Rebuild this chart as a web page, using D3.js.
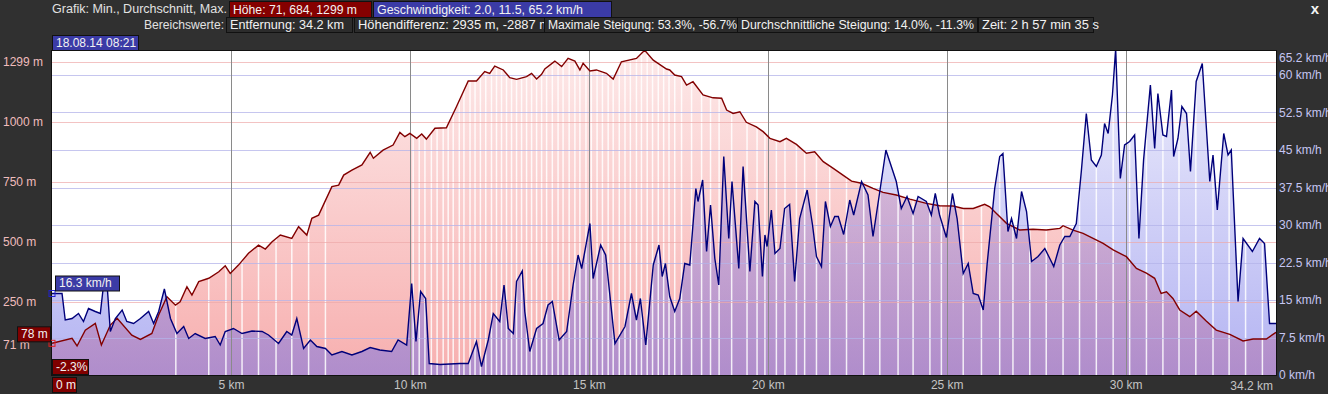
<!DOCTYPE html>
<html>
<head>
<meta charset="utf-8">
<script src="https://cdn.jsdelivr.net/npm/d3@7"></script>
<style>
    body { margin: 0; background: #303030; overflow: hidden; }
    svg { display: block; font-family: "Liberation Sans", Arial, sans-serif; }
</style>
</head>
<body>
<div class="chart"></div>
<script>
var svgWidth = 1328;
var svgHeight = 394;

var margin = {
    top: 51,
    right: 52,
    bottom: 19,
    left: 52
};

var width = svgWidth - margin.left - margin.right;
var height = svgHeight - margin.top - margin.bottom;

// elevation profile (km, m)
var elevKm = [0, 0.56, 0.70, 0.93, 1.21, 1.38, 1.63, 1.82, 2.23, 2.47, 2.79, 2.98, 3.21, 3.45, 3.58, 3.77, 3.91, 4.10, 4.38, 4.66,
    4.84, 4.98, 5.21, 5.49, 5.77, 5.96, 6.15, 6.38, 6.70, 6.89, 7.12, 7.26, 7.45, 7.82, 8.01, 8.15, 8.38, 8.66, 8.89, 8.98,
    9.25, 9.53, 9.72, 9.86, 10.0, 10.19, 10.33, 10.46, 10.70, 11.02, 11.30, 11.63, 11.86, 12.09, 12.23, 12.37, 12.61, 12.79, 12.98, 13.26,
    13.40, 13.54, 13.68, 13.77, 14.05, 14.24, 14.42, 14.61, 14.75, 14.84, 15.03, 15.21, 15.49, 15.68, 15.91, 16.33, 16.56, 16.80, 17.17, 17.26,
    17.40, 17.59, 17.73, 17.91, 18.19, 18.47, 18.71, 18.85, 19.03, 19.22, 19.40, 19.68, 19.87, 20.06, 20.34, 20.52, 20.80, 21.08, 21.31, 21.55,
    21.83, 22.10, 22.34, 22.62, 22.94, 23.22, 23.59, 23.97, 24.43, 24.80, 25.18, 25.46, 25.74, 26.06, 26.20, 26.39, 26.67, 27.04, 27.41, 27.78,
    28.16, 28.25, 28.53, 28.81, 29.09, 29.37, 29.65, 30.02, 30.30, 30.58, 30.81, 30.99, 31.14, 31.32, 31.51, 31.79, 31.97, 32.25, 32.53, 32.91,
    33.28, 33.56, 33.93, 34.2];
var elevM = [78, 99, 67, 133, 161, 71, 154, 182, 112, 94, 119, 196, 272, 237, 251, 314, 279, 335, 349, 376,
    401, 369, 404, 453, 487, 471, 501, 529, 515, 564, 529, 599, 612, 731, 737, 779, 800, 821, 874, 849,
    883, 904, 957, 939, 953, 932, 950, 929, 974, 976, 1064, 1171, 1171, 1210, 1203, 1233, 1217, 1185, 1178, 1189,
    1203, 1179, 1199, 1221, 1254, 1231, 1265, 1254, 1217, 1245, 1213, 1217, 1203, 1179, 1251, 1265, 1299, 1258, 1221, 1217,
    1196, 1189, 1154, 1168, 1113, 1101, 1099, 1050, 1036, 1043, 999, 980, 960, 932, 918, 932, 907, 870, 876, 835,
    807, 779, 754, 745, 724, 707, 696, 679, 661, 651, 650, 640, 640, 657, 647, 619, 578, 550, 553, 550,
    557, 568, 550, 536, 515, 494, 467, 439, 390, 370, 349, 286, 293, 265, 217, 189, 212, 171, 133, 115,
    88, 96, 96, 124];

// speed profile (km, km/h)
var speedKm = [0, 0.28, 0.37, 0.56, 0.74, 0.88, 1.02, 1.21, 1.35, 1.44, 1.54, 1.63, 1.77, 1.96, 2.09, 2.28, 2.47, 2.70, 2.84, 2.98,
    3.14, 3.31, 3.49, 3.68, 3.82, 4.00, 4.28, 4.56, 4.70, 4.84, 5.07, 5.31, 5.59, 5.87, 6.05, 6.33, 6.56, 6.70, 6.84, 7.03,
    7.22, 7.40, 7.64, 7.82, 8.10, 8.38, 8.66, 8.89, 9.16, 9.49, 9.67, 9.91, 10.05, 10.17, 10.30, 10.44, 10.54, 10.84, 11.40, 11.63,
    11.86, 12.00, 12.19, 12.33, 12.51, 12.63, 12.75, 12.89, 12.98, 13.14, 13.21, 13.35, 13.54, 13.72, 13.86, 13.98, 14.17, 14.38, 14.56, 14.70,
    14.80, 15.03, 15.12, 15.33, 15.47, 15.73, 16.01, 16.19, 16.33, 16.44, 16.59, 16.80, 16.96, 17.05, 17.14, 17.26, 17.40, 17.54, 17.68, 17.82,
    17.99, 18.05, 18.18, 18.29, 18.40, 18.52, 18.63, 18.77, 18.91, 19.00, 19.19, 19.31, 19.50, 19.64, 19.73, 19.85, 19.92, 19.98, 20.10, 20.20,
    20.34, 20.47, 20.61, 20.75, 20.89, 21.10, 21.25, 21.36, 21.50, 21.61, 21.75, 21.87, 21.97, 22.12, 22.29, 22.40, 22.62, 22.80, 22.94, 23.13,
    23.30, 23.59, 23.73, 23.89, 24.06, 24.20, 24.43, 24.57, 24.68, 24.80, 24.99, 25.16, 25.29, 25.46, 25.60, 25.74, 25.88, 26.02, 26.13, 26.34,
    26.48, 26.57, 26.71, 26.81, 26.95, 27.09, 27.23, 27.37, 27.55, 27.74, 27.88, 27.99, 28.16, 28.30, 28.44, 28.62, 28.76, 28.90, 29.04, 29.18,
    29.32, 29.41, 29.51, 29.63, 29.72, 29.85, 29.97, 30.11, 30.25, 30.37, 30.50, 30.69, 30.81, 30.90, 31.04, 31.14, 31.28, 31.34, 31.46, 31.57,
    31.70, 31.81, 31.97, 32.14, 32.35, 32.44, 32.56, 32.74, 32.86, 32.95, 33.14, 33.28, 33.54, 33.74, 33.88, 34.02, 34.2];
var speedKmh = [16.3, 16.3, 11.0, 11.3, 12.3, 10.7, 13.3, 12.7, 12.3, 18, 18, 8.7, 11.3, 13, 10.7, 10.3, 11.3, 12.7, 10.3, 12.7,
    17.2, 11.3, 8.3, 9.7, 7.3, 8.3, 7.3, 7.7, 6, 8.7, 9.3, 8.3, 8.8, 8.7, 8, 6.3, 8.7, 8, 11.3, 5.3,
    7, 5.7, 5.3, 4, 4.7, 4, 4.7, 5.5, 5, 4.7, 7, 6, 18.3, 6.7, 16.7, 15.3, 2.3, 2.1, 2.3, 2.3,
    6.7, 1.7, 7, 12.3, 10.7, 18, 9.3, 8.3, 18.7, 20.8, 12.7, 4.7, 9.3, 10.3, 14, 14.7, 7, 8.7, 18, 24,
    21.3, 30.3, 19.3, 26, 24, 6.3, 9.7, 16.3, 11, 15.3, 6, 22, 26, 19.7, 22.3, 15.7, 12.7, 15.3, 22.3, 22,
    37.3, 34.7, 39, 24.7, 34, 23.3, 18, 43.7, 27.3, 38.7, 21.3, 41.7, 20.7, 34.7, 34, 19.7, 28, 25.7, 33, 24.3,
    25.3, 33.3, 34.1, 18.7, 31.3, 37, 30, 23.7, 21.7, 34.7, 29.7, 31.7, 31.7, 28.1, 35, 32, 38.7, 36, 27.7, 36.7,
    45, 38.7, 33.3, 35.7, 32.3, 35.7, 34.7, 32, 36.3, 32, 27.5, 36.3, 31.3, 20.3, 22.3, 16.3, 16, 13, 22.3, 37.3,
    43.7, 44.3, 28.7, 31.3, 27.3, 36.7, 32.7, 22.7, 23.7, 25.3, 23.3, 21.7, 26, 27.7, 27.7, 30.3, 40.7, 52.3, 43, 41.7,
    44, 50.3, 48.3, 56, 65.2, 39.3, 46, 46.7, 48, 27.3, 43, 58, 45.3, 56.3, 48, 47.7, 57, 43.7, 47.3, 53.7,
    52.3, 40.7, 58.7, 62.3, 38.7, 44, 33, 48.3, 44, 45, 14.7, 27.3, 24.7, 27.3, 26.3, 10.3, 10.3];

// track segment boundaries (white stripes in the fill)
var segmentKm = [3.46, 4.38, 4.86, 5.31, 5.77, 6.26, 6.70, 7.17, 7.64, 10.09, 10.26, 10.42, 10.60, 10.76, 10.93, 11.07, 11.21, 11.38, 11.51, 11.68,
    11.82, 11.97, 12.12, 12.28, 12.42, 12.56, 12.70, 12.84, 12.98, 13.12, 13.26, 13.40, 13.54, 13.68, 13.82, 13.98, 14.14, 14.28, 14.45, 14.61,
    14.75, 14.92, 15.07, 15.23, 15.38, 15.54, 15.68, 15.85, 16.01, 16.16, 16.33, 16.47, 16.63, 16.78, 16.94, 17.09, 17.24, 17.40, 17.59, 17.87,
    18.15, 18.40, 18.64, 18.99, 19.42, 19.70, 19.92, 20.24, 20.48, 20.80, 21.03, 21.36, 21.73, 22.20, 22.68, 23.13, 23.64, 24.06, 24.53, 24.85,
    25.46, 25.97, 26.48, 26.85, 27.32, 27.78, 28.25, 28.71, 29.18, 29.65, 30.11, 30.58, 31.04, 31.49, 31.96, 32.44, 32.89, 33.35, 33.82];

var distTicks = [5, 10, 15, 20, 25, 30];
var distLabels = ["5 km", "10 km", "15 km", "20 km", "25 km", "30 km"];
var elevTicks = [71, 250, 500, 750, 1000, 1250];
var elevLabels = ["71 m", "250 m", "500 m", "750 m", "1000 m", "1299 m"];
var speedTicks = [0, 7.5, 15, 22.5, 30, 37.5, 45, 52.5, 60, 63.4];
var speedLabels = ["0 km/h", "7.5 km/h", "15 km/h", "22.5 km/h", "30 km/h", "37.5 km/h", "45 km/h", "52.5 km/h", "60 km/h", "65.2 km/h"];

var elevData = elevKm.map((k, i) => ({ km: k, v: elevM[i] }));
var speedData = speedKm.map((k, i) => ({ km: k, v: speedKmh[i] }));

var svg = d3
    .select(".chart")
    .append("svg")
    .attr("width", svgWidth)
    .attr("height", svgHeight);

svg.append("rect")
    .attr("width", svgWidth)
    .attr("height", svgHeight)
    .attr("fill", "#303030");

// text helper, squeezes the string into w pixels if given
function addText(g, x, y, txt, opts) {
    opts = opts || {};
    var t = g.append("text")
        .attr("x", x)
        .attr("y", y)
        .attr("fill", opts.color || "#e2e2e2")
        .attr("font-size", opts.size || 12)
        .attr("text-anchor", opts.anchor || "start")
        .text(txt);
    if (opts.w) {
        t.attr("textLength", opts.w).attr("lengthAdjust", "spacingAndGlyphs");
    }
    return t;
}

function addBox(g, x, y, w, h, fill, txt, tw) {
    g.append("rect")
        .attr("x", x + 0.5)
        .attr("y", y + 0.5)
        .attr("width", w)
        .attr("height", h)
        .attr("fill", fill)
        .attr("stroke", "#111");
    addText(g, x + 4, y + h - 3.5, txt, { w: tw, color: "#f2f2f2" });
}

// header
var header = svg.append("g");
addText(header, 227, 13, "Grafik: Min., Durchschnitt, Max.", { anchor: "end", w: 175 });
addBox(header, 229, 1, 142, 16, "#850000", "Höhe: 71, 684, 1299 m", 124);
addBox(header, 373, 1, 238, 16, "#3b3ba6", "Geschwindigkeit: 2.0, 11.5, 65.2 km/h", 206);

addText(header, 224, 29, "Bereichswerte:", { anchor: "end", w: 80 });
addBox(header, 226, 17, 126, 15, "#2c2c2c", "Entfernung: 34.2 km", 114);
addBox(header, 354, 17, 192, 15, "#2c2c2c", "Höhendifferenz: 2935 m, -2887 m", 192);
addBox(header, 544, 17, 194, 15, "#2c2c2c", "Maximale Steigung: 53.3%, -56.7%", 189);
addBox(header, 737, 17, 240, 15, "#2c2c2c", "Durchschnittliche Steigung: 14.0%, -11.3%", 233);
addBox(header, 978, 17, 115, 15, "#2c2c2c", "Zeit: 2 h 57 min 35 s", 117);

header.append("text")
    .attr("x", 1315)
    .attr("y", 14)
    .attr("text-anchor", "middle")
    .attr("font-size", 15)
    .attr("font-weight", "bold")
    .attr("fill", "#f4f4f4")
    .text("x");

// chart group
var chartGroup = svg.append("g")
    .attr("transform", `translate(${margin.left}, ${margin.top})`);

var xScale = d3.scaleLinear()
    .domain([0, 34.2])
    .range([0, width]);

var elevScale = d3.scaleLinear()
    .domain([-54, 1296])
    .range([height, 0]);

var speedScale = d3.scaleLinear()
    .domain([0, 64.8])
    .range([height, 0]);

var defs = svg.append("defs");

defs.append("clipPath")
    .attr("id", "plotClip")
    .append("rect")
    .attr("width", width)
    .attr("height", height);

var elevGrad = defs.append("linearGradient")
    .attr("id", "elevGrad")
    .attr("gradientUnits", "userSpaceOnUse")
    .attr("x1", 0).attr("x2", 0)
    .attr("y1", 0).attr("y2", height);
elevGrad.append("stop").attr("offset", "0%").attr("stop-color", "#fde9e9");
elevGrad.append("stop").attr("offset", "100%").attr("stop-color", "#f7afaf");

var speedGrad = defs.append("linearGradient")
    .attr("id", "speedGrad")
    .attr("gradientUnits", "userSpaceOnUse")
    .attr("x1", 0).attr("x2", 0)
    .attr("y1", 0).attr("y2", height);
speedGrad.append("stop").attr("offset", "0%").attr("stop-color", "#6e6ee6").attr("stop-opacity", 0.12);
speedGrad.append("stop").attr("offset", "100%").attr("stop-color", "#6e6ee6").attr("stop-opacity", 0.52);

var elevArea = d3.area()
    .x(d => xScale(d.km))
    .y0(height)
    .y1(d => elevScale(d.v));

var speedArea = d3.area()
    .x(d => xScale(d.km))
    .y0(height)
    .y1(d => speedScale(d.v));

var elevLine = d3.line()
    .x(d => xScale(d.km))
    .y(d => elevScale(d.v));

var speedLine = d3.line()
    .x(d => xScale(d.km))
    .y(d => speedScale(d.v));

// union of both fills, used to cut the white stripes
var fillClip = defs.append("clipPath").attr("id", "fillClip");
fillClip.append("path").attr("d", elevArea(elevData));
fillClip.append("path").attr("d", speedArea(speedData));

chartGroup.append("rect")
    .attr("width", width)
    .attr("height", height)
    .attr("fill", "#ffffff");

var plot = chartGroup.append("g")
    .attr("clip-path", "url(#plotClip)");

plot.append("path")
    .datum(elevData)
    .attr("d", elevArea)
    .attr("fill", "url(#elevGrad)");

plot.append("path")
    .datum(speedData)
    .attr("d", speedArea)
    .attr("fill", "url(#speedGrad)");

plot.append("g")
    .attr("clip-path", "url(#fillClip)")
    .selectAll("line")
    .data(segmentKm)
    .enter()
    .append("line")
    .attr("x1", d => xScale(d))
    .attr("x2", d => xScale(d))
    .attr("y1", 0)
    .attr("y2", height)
    .attr("stroke", "#ffffff")
    .attr("stroke-width", 1.5)
    .attr("opacity", 0.85);

// grid lines
plot.selectAll(".elev-grid")
    .data(elevTicks.filter(d => d > 100))
    .enter()
    .append("line")
    .attr("x1", 0)
    .attr("x2", width)
    .attr("y1", d => Math.round(elevScale(d)) + 0.5)
    .attr("y2", d => Math.round(elevScale(d)) + 0.5)
    .attr("stroke", "#eeaaaa")
    .attr("opacity", 0.7);

plot.selectAll(".speed-grid")
    .data(speedTicks.filter(d => d > 0 && d <= 60))
    .enter()
    .append("line")
    .attr("x1", 0)
    .attr("x2", width)
    .attr("y1", d => Math.round(speedScale(d)) + 0.5)
    .attr("y2", d => Math.round(speedScale(d)) + 0.5)
    .attr("stroke", "#b4b4ea")
    .attr("opacity", 0.75);

plot.selectAll(".dist-grid")
    .data(distTicks)
    .enter()
    .append("line")
    .attr("x1", d => Math.round(xScale(d)) + 0.5)
    .attr("x2", d => Math.round(xScale(d)) + 0.5)
    .attr("y1", 0)
    .attr("y2", height)
    .attr("stroke", "#8a8a8a");

plot.append("path")
    .datum(elevData)
    .attr("d", elevLine)
    .attr("fill", "none")
    .attr("stroke", "#820000")
    .attr("stroke-width", 1.4);

plot.append("path")
    .datum(speedData)
    .attr("d", speedLine)
    .attr("fill", "none")
    .attr("stroke", "#00007a")
    .attr("stroke-width", 1.4);

chartGroup.append("rect")
    .attr("x", -0.5)
    .attr("y", -0.5)
    .attr("width", width + 1)
    .attr("height", height + 1)
    .attr("fill", "none")
    .attr("stroke", "#111");

// axes
var bottomAxis = d3.axisBottom(xScale)
    .tickValues(distTicks)
    .tickSize(0)
    .tickPadding(5)
    .tickFormat((d, i) => distLabels[i]);

var leftAxis = d3.axisLeft(elevScale)
    .tickValues(elevTicks)
    .tickSize(0)
    .tickFormat((d, i) => elevLabels[i]);

var rightAxis = d3.axisRight(speedScale)
    .tickValues(speedTicks)
    .tickSize(0)
    .tickPadding(3)
    .tickFormat((d, i) => speedLabels[i]);

var xAxis = chartGroup.append("g")
    .attr("transform", `translate(0, ${height})`)
    .call(bottomAxis);

xAxis.append("text")
    .attr("x", width - 3)
    .attr("y", 15)
    .attr("text-anchor", "end")
    .text("34.2 km");

var yAxis = chartGroup.append("g")
    .call(leftAxis);
yAxis.selectAll("text")
    .attr("x", -49)
    .attr("text-anchor", "start");

var y2Axis = chartGroup.append("g")
    .attr("transform", `translate(${width}, 0)`)
    .call(rightAxis);

[xAxis, yAxis, y2Axis].forEach(a => {
    a.select(".domain").remove();
    a.attr("font-family", null).attr("font-size", 12);
});
xAxis.selectAll("text").attr("fill", "#c4c4c4");
yAxis.selectAll("text").attr("fill", "#efbcbc");
y2Axis.selectAll("text").attr("fill", "#c6c6f2");

// cursor markers at the start of the track
var startX = xScale(elevKm[0]);
var elevY = elevScale(elevM[0]);
var speedY = speedScale(speedKmh[0]);

chartGroup.append("rect")
    .attr("x", startX - 3)
    .attr("y", elevY - 3)
    .attr("width", 6)
    .attr("height", 6)
    .attr("fill", "none")
    .attr("stroke", "#e02020");

chartGroup.append("rect")
    .attr("x", startX - 3)
    .attr("y", speedY - 3)
    .attr("width", 6)
    .attr("height", 6)
    .attr("fill", "none")
    .attr("stroke", "#2020d0");

addBox(chartGroup, startX - 35, elevY - 17, 33, 15, "#800000", elevM[0] + " m");
addBox(chartGroup, startX + 3, speedY - 18, 64, 15, "#3b3ba6", speedKmh[0] + " km/h");
addBox(chartGroup, startX, height - 16, 36, 15, "#800000", "-2.3%");
addBox(chartGroup, startX, height + 2, 24, 15, "#800000", "0 m");
addBox(chartGroup, startX, -16, 86, 15, "#3b3ba6", "18.08.14 08:21");
</script>
</body>
</html>
